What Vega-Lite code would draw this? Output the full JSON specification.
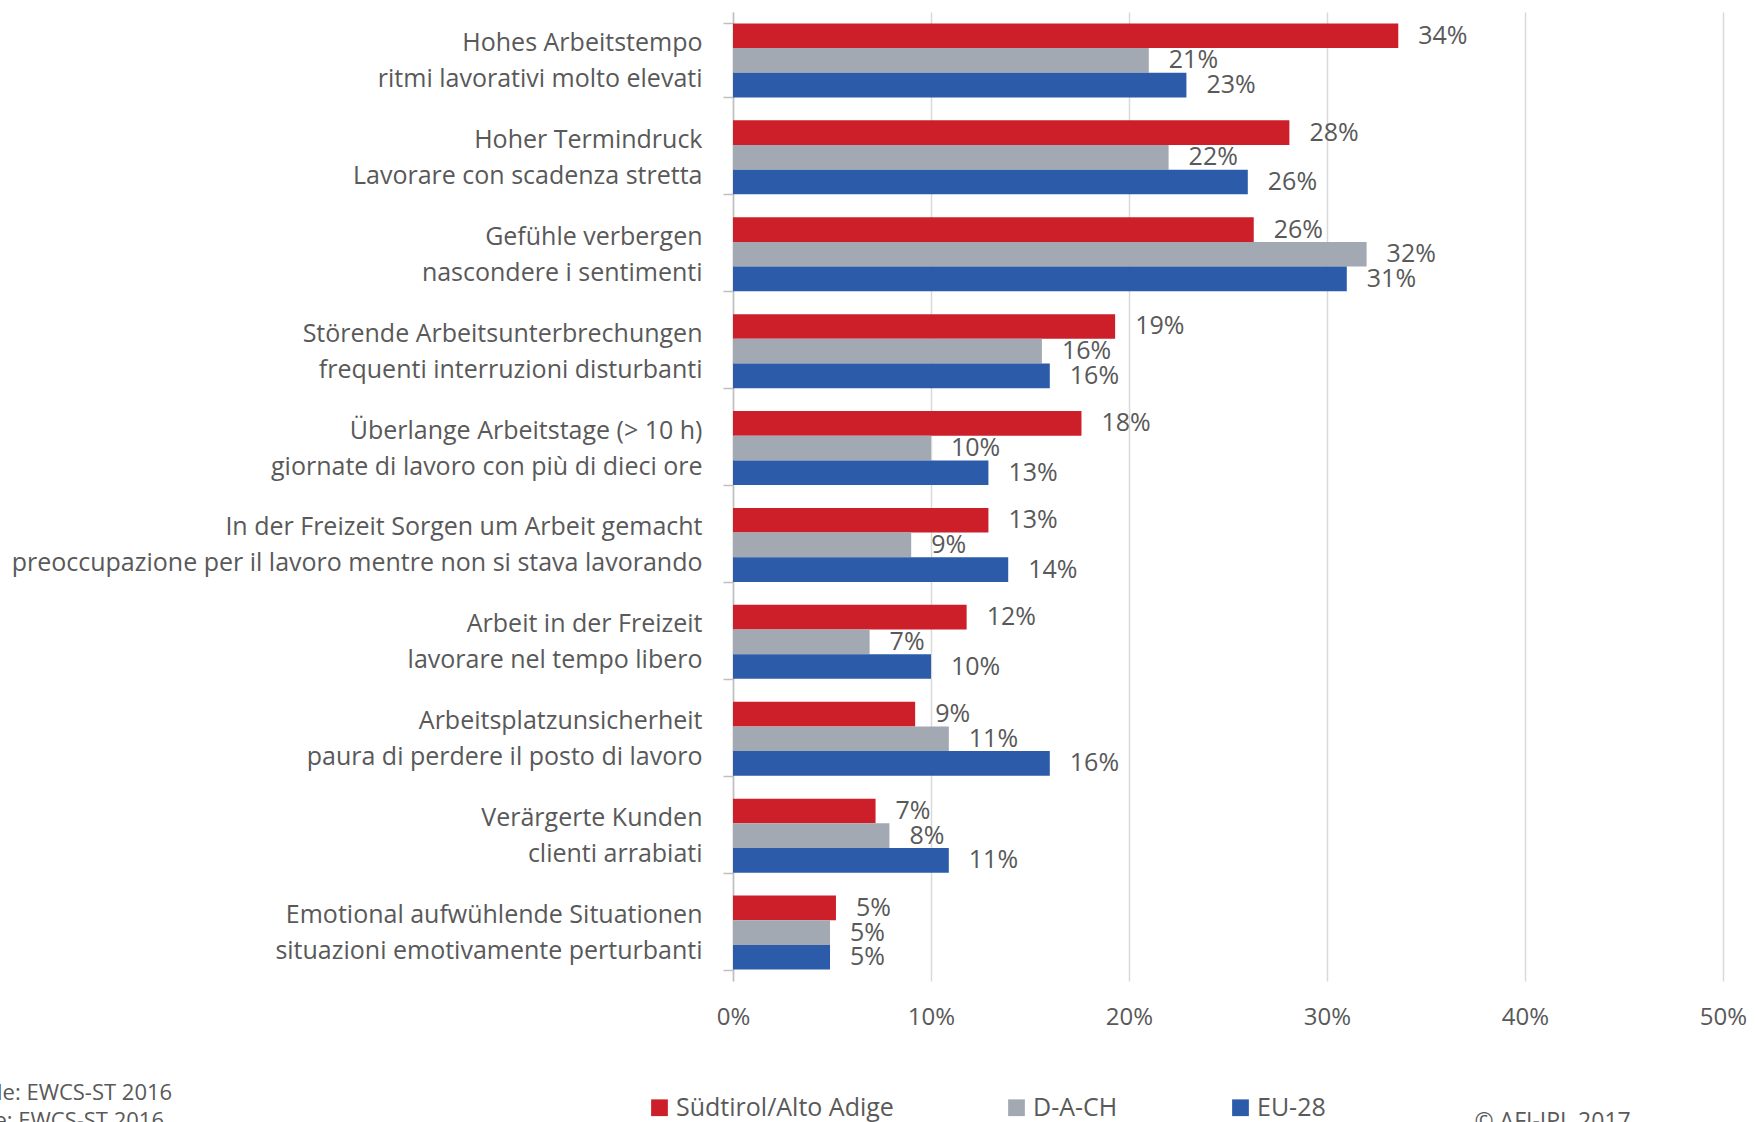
{
  "$schema": "https://vega.github.io/schema/vega-lite/v6.json",
  "width": 990,
  "height": 969,
  "autosize": {"type": "none"},
  "padding": {"left": 733, "top": 12, "right": 35, "bottom": 141},
  "background": "white",
  "config": {
    "font": "Open Sans",
    "view": {"stroke": null},
    "text": {"font": "Open Sans"}
  },
  "data": {
    "values": [
      {"item": "Hohes Arbeitstempo|ritmi lavorativi molto elevati", "region": "Südtirol/Alto Adige", "value": 0.336},
      {"item": "Hohes Arbeitstempo|ritmi lavorativi molto elevati", "region": "D-A-CH", "value": 0.21},
      {"item": "Hohes Arbeitstempo|ritmi lavorativi molto elevati", "region": "EU-28", "value": 0.229},
      {"item": "Hoher Termindruck|Lavorare con scadenza stretta", "region": "Südtirol/Alto Adige", "value": 0.281},
      {"item": "Hoher Termindruck|Lavorare con scadenza stretta", "region": "D-A-CH", "value": 0.22},
      {"item": "Hoher Termindruck|Lavorare con scadenza stretta", "region": "EU-28", "value": 0.26},
      {"item": "Gefühle verbergen|nascondere i sentimenti", "region": "Südtirol/Alto Adige", "value": 0.263},
      {"item": "Gefühle verbergen|nascondere i sentimenti", "region": "D-A-CH", "value": 0.32},
      {"item": "Gefühle verbergen|nascondere i sentimenti", "region": "EU-28", "value": 0.31},
      {"item": "Störende Arbeitsunterbrechungen|frequenti interruzioni disturbanti", "region": "Südtirol/Alto Adige", "value": 0.193},
      {"item": "Störende Arbeitsunterbrechungen|frequenti interruzioni disturbanti", "region": "D-A-CH", "value": 0.156},
      {"item": "Störende Arbeitsunterbrechungen|frequenti interruzioni disturbanti", "region": "EU-28", "value": 0.16},
      {"item": "Überlange Arbeitstage (> 10 h)|giornate di lavoro con più di dieci ore", "region": "Südtirol/Alto Adige", "value": 0.176},
      {"item": "Überlange Arbeitstage (> 10 h)|giornate di lavoro con più di dieci ore", "region": "D-A-CH", "value": 0.1},
      {"item": "Überlange Arbeitstage (> 10 h)|giornate di lavoro con più di dieci ore", "region": "EU-28", "value": 0.129},
      {"item": "In der Freizeit Sorgen um Arbeit gemacht|preoccupazione per il lavoro mentre non si stava lavorando", "region": "Südtirol/Alto Adige", "value": 0.129},
      {"item": "In der Freizeit Sorgen um Arbeit gemacht|preoccupazione per il lavoro mentre non si stava lavorando", "region": "D-A-CH", "value": 0.09},
      {"item": "In der Freizeit Sorgen um Arbeit gemacht|preoccupazione per il lavoro mentre non si stava lavorando", "region": "EU-28", "value": 0.139},
      {"item": "Arbeit in der Freizeit|lavorare nel tempo libero", "region": "Südtirol/Alto Adige", "value": 0.118},
      {"item": "Arbeit in der Freizeit|lavorare nel tempo libero", "region": "D-A-CH", "value": 0.069},
      {"item": "Arbeit in der Freizeit|lavorare nel tempo libero", "region": "EU-28", "value": 0.1},
      {"item": "Arbeitsplatzunsicherheit|paura di perdere il posto di lavoro", "region": "Südtirol/Alto Adige", "value": 0.092},
      {"item": "Arbeitsplatzunsicherheit|paura di perdere il posto di lavoro", "region": "D-A-CH", "value": 0.109},
      {"item": "Arbeitsplatzunsicherheit|paura di perdere il posto di lavoro", "region": "EU-28", "value": 0.16},
      {"item": "Verärgerte Kunden|clienti arrabiati", "region": "Südtirol/Alto Adige", "value": 0.072},
      {"item": "Verärgerte Kunden|clienti arrabiati", "region": "D-A-CH", "value": 0.079},
      {"item": "Verärgerte Kunden|clienti arrabiati", "region": "EU-28", "value": 0.109},
      {"item": "Emotional aufwühlende Situationen|situazioni emotivamente perturbanti", "region": "Südtirol/Alto Adige", "value": 0.052},
      {"item": "Emotional aufwühlende Situationen|situazioni emotivamente perturbanti", "region": "D-A-CH", "value": 0.049},
      {"item": "Emotional aufwühlende Situationen|situazioni emotivamente perturbanti", "region": "EU-28", "value": 0.049}
    ]
  },
  "encoding": {
    "y": {
      "field": "item",
      "type": "nominal",
      "sort": null,
      "scale": {"paddingInner": 0.236, "paddingOuter": 0.118},
      "axis": {
        "title": ["Quelle: EWCS-ST 2016", "Fonte: EWCS-ST 2016"],
        "titleAngle": 0,
        "titleAlign": "left",
        "titleBaseline": "alphabetic",
        "titleX": -785,
        "titleY": 1087,
        "titleFontSize": 22,
        "titleFontWeight": "normal",
        "titleColor": "#595959",
        "titleFont": "Open Sans",
        "titleLineHeight": 28,
        "labelExpr": "split(datum.label, '|')",
        "labelFontSize": 25,
        "labelFont": "Open Sans",
        "labelColor": "#595959",
        "labelLimit": 1000,
        "labelLineHeight": 36,
        "labelPadding": 21,
        "labelOffset": -18,
        "labelAlign": "right",
        "labelBaseline": "middle",
        "tickBand": "extent",
        "tickSize": 10,
        "tickColor": "#bfbfbf",
        "tickWidth": 1.5,
        "domainColor": "#bfbfbf",
        "domainWidth": 1.5,
        "grid": false
      }
    },
    "yOffset": {
      "field": "region",
      "type": "nominal",
      "sort": ["Südtirol/Alto Adige", "D-A-CH", "EU-28"],
      "scale": {"paddingInner": 0, "paddingOuter": 0}
    },
    "x": {
      "field": "value",
      "type": "quantitative",
      "scale": {"domain": [0, 0.5], "nice": false},
      "axis": {
        "values": [0, 0.1, 0.2, 0.3, 0.4, 0.5],
        "format": ".0%",
        "grid": true,
        "gridColor": "#d9d9d9",
        "gridWidth": 1.5,
        "domain": false,
        "ticks": false,
        "labelFlush": false,
        "labelFontSize": 24,
        "labelFont": "Open Sans",
        "labelColor": "#595959",
        "labelPadding": 24,
        "title": "© AFI-IPL 2017",
        "titleX": 741,
        "titleY": 147,
        "titleAlign": "left",
        "titleBaseline": "alphabetic",
        "titleAnchor": "start",
        "titleFontSize": 23,
        "titleFontWeight": "normal",
        "titleColor": "#595959",
        "titleFont": "Open Sans"
      }
    }
  },
  "layer": [
    {
      "mark": {"type": "bar"},
      "encoding": {
        "color": {
          "field": "region",
          "type": "nominal",
          "scale": {
            "domain": ["Südtirol/Alto Adige", "D-A-CH", "EU-28"],
            "range": ["#cc1f2a", "#a2a9b2", "#2b5ba9"]
          },
          "legend": {
            "title": null,
            "orient": "none",
            "direction": "horizontal",
            "legendX": -86,
            "legendY": 1083,
            "padding": 0,
            "offset": 0,
            "symbolType": "square",
            "symbolSize": 280,
            "symbolStrokeWidth": 0,
            "symbolOpacity": 1,
            "labelFontSize": 25,
            "labelFont": "Open Sans",
            "labelColor": "#595959",
            "labelOffset": 4,
            "labelLimit": 400,
            "columnPadding": 110
          }
        }
      }
    },
    {
      "mark": {
        "type": "text",
        "align": "left",
        "baseline": "middle",
        "dx": 20,
        "fontSize": 25,
        "font": "Open Sans",
        "color": "#595959"
      },
      "encoding": {
        "text": {"field": "value", "type": "quantitative", "format": ".0%"}
      }
    }
  ]
}
